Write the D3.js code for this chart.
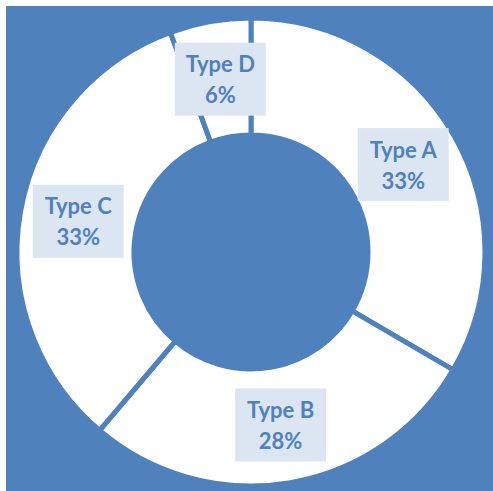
<!DOCTYPE html>
<html>
<head>
<meta charset="utf-8">
<script src="https://cdn.jsdelivr.net/npm/d3@7"></script>
<style>
  body { margin: 0; background: #fff; }
  svg { display: block; }
</style>
</head>
<body>
<svg id="chart"></svg>
<script>
// data
const categories = ["Type A", "Type B", "Type C", "Type D"];
const values = [33.4, 27.8, 33.2, 5.6];
const percentLabels = ["33%", "28%", "33%", "6%"];

const width = 493, height = 491;
const blue = "#4f81bd";

let svg = d3.select("#chart")
    .attr("width", width)
    .attr("height", height);

// plot area background
svg.append("rect")
    .attr("x", 6).attr("y", 6)
    .attr("width", width - 6).attr("height", height - 6)
    .attr("fill", blue);

let g = svg.append("g").attr("transform", "translate(251,252)");

let pie = d3.pie().sort(null).value(d => d);
let arc = d3.arc().innerRadius(117).outerRadius(234);

let arcs = pie(values);

g.selectAll("path.slice")
    .data(arcs)
    .enter()
    .append("path")
    .attr("class", "slice")
    .attr("d", arc)
    .attr("fill", "#fff")
    .attr("stroke", blue)
    .attr("stroke-width", 5)
    .attr("stroke-linejoin", "miter");

// labels
let boxW = 91, boxH = 73;
let labels = g.selectAll("g.label")
    .data(arcs)
    .enter()
    .append("g")
    .attr("class", "label")
    .attr("transform", d => "translate(" + arc.centroid(d) + ")");

labels.append("rect")
    .attr("x", -boxW / 2).attr("y", -boxH / 2)
    .attr("width", boxW).attr("height", boxH)
    .attr("fill", "#dce6f2");

labels.append("text")
    .attr("text-anchor", "middle")
    .attr("y", -7)
    .attr("font-family", "Lato, 'Open Sans', sans-serif")
    .attr("font-weight", "bold")
    .attr("font-size", "22px")
    .attr("fill", blue)
    .text((d, i) => categories[i]);

labels.append("text")
    .attr("text-anchor", "middle")
    .attr("y", 24)
    .attr("font-family", "Lato, 'Open Sans', sans-serif")
    .attr("font-weight", "bold")
    .attr("font-size", "22px")
    .attr("fill", blue)
    .text((d, i) => percentLabels[i]);
</script>
</body>
</html>
